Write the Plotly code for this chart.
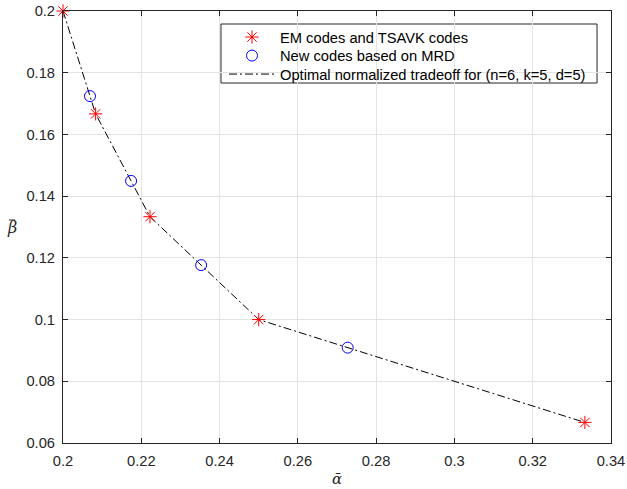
import plotly.graph_objects as go

# Normalized storage (alpha bar) and repair bandwidth (beta bar) points
em_alpha = [1/5, 5/24, 2/9, 1/4, 1/3]
em_beta = [1/5, 1/6, 2/15, 1/10, 1/15]

mrd_alpha = [6/29, 5/23, 4/17, 3/11]
mrd_beta = [5/29, 10/69, 2/17, 1/11]

# Corner points of the optimal normalized tradeoff curve
opt_alpha = [1/5, 5/24, 2/9, 1/4, 1/3]
opt_beta = [1/5, 1/6, 2/15, 1/10, 1/15]

x_ticks = [0.2, 0.22, 0.24, 0.26, 0.28, 0.3, 0.32, 0.34]
x_labels = ["0.2", "0.22", "0.24", "0.26", "0.28", "0.3", "0.32", "0.34"]
y_ticks = [0.06, 0.08, 0.1, 0.12, 0.14, 0.16, 0.18, 0.2]
y_labels = ["0.06", "0.08", "0.1", "0.12", "0.14", "0.16", "0.18", "0.2"]

AX = "#262626"
FONT = "Liberation Sans, Arial, sans-serif"
FS = 14.7

fig = go.Figure()

fig.add_trace(go.Scatter(
    x=opt_alpha, y=opt_beta, mode="lines",
    line=dict(color="black", width=1, dash="8px,3px,2px,3px"),
    name="Optimal normalized tradeoff for (n=6, k=5, d=5)", legend="legend3",
))
fig.add_trace(go.Scatter(
    x=em_alpha, y=em_beta, mode="markers", cliponaxis=False,
    marker=dict(symbol="asterisk-open", size=11, color="#ff0000",
                line=dict(color="#ff0000", width=1)),
    name="EM codes and TSAVK codes", legend="legend",
))
fig.add_trace(go.Scatter(
    x=mrd_alpha, y=mrd_beta, mode="markers", cliponaxis=False,
    marker=dict(symbol="circle-open", size=11, color="#0000ff",
                line=dict(color="#0000ff", width=1)),
    name="New codes based on MRD", legend="legend2",
))

axis_common = dict(
    showline=True, linecolor=AX, linewidth=1, mirror="ticks",
    ticks="inside", ticklen=5, tickwidth=1, tickcolor=AX,
    showgrid=True, gridcolor="#e3e3e3", gridwidth=1,
    zeroline=False, automargin=False,
    tickfont=dict(family=FONT, size=FS, color=AX),
)

fig.update_xaxes(range=[0.2, 0.34], tickvals=x_ticks, ticktext=x_labels,
                 ticklabelstandoff=4, **axis_common)
fig.update_yaxes(range=[0.06, 0.2], tickvals=y_ticks, ticktext=y_labels,
                 ticklabelstandoff=4, **axis_common)

# One legend per row so the rows sit tightly inside a single framed box
leg_common = dict(
    xanchor="left", yanchor="top", x=0.2938, visible=True,
    bgcolor="rgba(0,0,0,0)", borderwidth=0, itemwidth=46,
    font=dict(family=FONT, size=FS, color="black"),
)

fig.update_layout(
    width=627, height=489,
    margin=dict(l=63, r=16, t=11, b=46, autoexpand=False),
    paper_bgcolor="white", plot_bgcolor="white",
    font=dict(family=FONT, size=FS, color="black"),
    showlegend=True,
    legend=dict(y=0.9769, **leg_common),
    legend2=dict(y=0.9340, **leg_common),
    legend3=dict(y=0.8912, **leg_common),
    shapes=[
        # legend frame
        dict(type="rect", xref="paper", yref="paper",
             x0=0.2883, x1=0.9745, y0=0.8333, y1=0.9699,
             line=dict(color=AX, width=1), fillcolor="white", layer="between"),
        # bar over the y-axis label
        dict(type="line", xref="paper", yref="paper",
             xsizemode="pixel", xanchor=0, x0=-54, x1=-48,
             ysizemode="pixel", yanchor=0.5, y0=7, y1=7,
             line=dict(color=AX, width=1)),
    ],
    annotations=[
        dict(text="<i>ᾱ</i>", xref="paper", yref="paper", x=0.5, y=0,
             xanchor="center", yanchor="middle", yshift=-36, showarrow=False,
             font=dict(family="DejaVu Serif", size=15, color=AX)),
        dict(text="<i>β</i>", xref="paper", yref="paper", x=0, y=0.5,
             xanchor="center", yanchor="middle", xshift=-51, showarrow=False,
             font=dict(family="DejaVu Serif", size=16, color=AX)),
    ],
)

fig.write_html("out.html")
